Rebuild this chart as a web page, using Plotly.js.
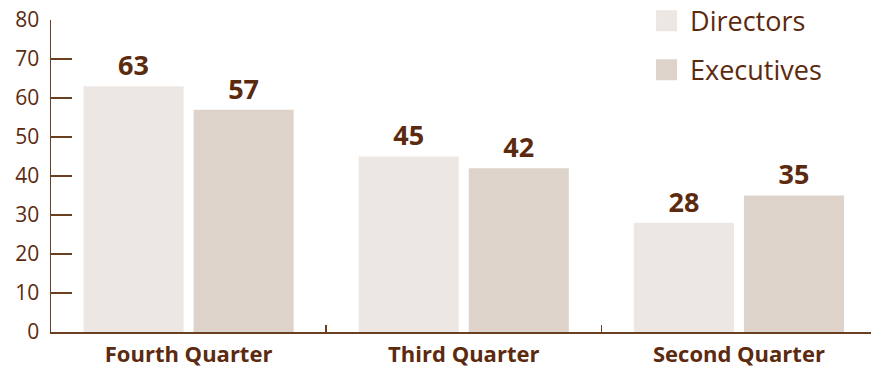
<!DOCTYPE html>
<html>
<head>
<meta charset="utf-8">
<script src="https://cdn.plot.ly/plotly-3.0.1.min.js"></script>
<style>html,body{margin:0;padding:0;background:#fff;}#chart{width:871px;height:367px;}</style>
</head>
<body>
<div id="chart"></div>
<script>
const categories = ["Fourth Quarter", "Third Quarter", "Second Quarter"];
const directors = [63, 45, 28];
const executives = [57, 42, 35];
const seriesNames = ["Directors", "Executives"];
const yTicks = [0, 10, 20, 30, 40, 50, 60, 70, 80];

const brown = "#5c2a0e";
const axisBrown = "#6b3f22";
const colDir = "#ede7e4";
const colExe = "#ddd3cb";
const fam = "'Open Sans', 'Noto Sans', sans-serif";

const traces = [
  {type: "bar", x: categories, y: directors, name: seriesNames[0], marker: {color: colDir},
   text: directors.map(String), textposition: "outside", cliponaxis: false,
   textfont: {family: fam, size: 27, color: brown, weight: 700}, showlegend: false, hoverinfo: "none"},
  {type: "bar", x: categories, y: executives, name: seriesNames[1], marker: {color: colExe},
   text: executives.map(String), textposition: "outside", cliponaxis: false,
   textfont: {family: fam, size: 27, color: brown, weight: 700}, showlegend: false, hoverinfo: "none"},
  {type: "scatter", mode: "markers", x: [null], y: [null], name: seriesNames[0], legendgroup: "a",
   marker: {symbol: "square", size: 16, color: colDir, line: {color: colDir, width: 5}}, showlegend: true},
  {type: "scatter", mode: "markers", x: [null], y: [null], name: seriesNames[1], legendgroup: "b",
   marker: {symbol: "square", size: 16, color: colExe, line: {color: colExe, width: 5}}, showlegend: true}
];

const layout = {
  width: 871, height: 367,
  margin: {l: 51, r: 0, t: 0, b: 35, autoexpand: false},
  paper_bgcolor: "#fff", plot_bgcolor: "#fff",
  barmode: "group", bargap: 0.2, bargroupgap: 0.091,
  font: {family: fam, color: brown},
  xaxis: {
    type: "category", range: [-0.5, 2.48], fixedrange: true,
    showline: true, linecolor: axisBrown, linewidth: 2, layer: "below traces",
    ticks: "inside", tickson: "boundaries", ticklen: 7, tickcolor: axisBrown, tickwidth: 1.5,
    ticklabelstandoff: 2,
    tickfont: {family: fam, size: 22, color: brown, weight: 700},
    showgrid: false, zeroline: false
  },
  yaxis: {
    domain: [0, 0.9398],
    range: [0, 80], tickvals: yTicks, ticktext: yTicks.map(String),
    showline: true, linecolor: axisBrown, linewidth: 1.5,
    ticks: "inside", ticklen: 21, tickcolor: axisBrown, tickwidth: 1.5,
    ticklabelstandoff: 6,
    tickfont: {family: fam, size: 21, color: brown},
    showgrid: false, zeroline: false, fixedrange: true
  },
  showlegend: true,
  legend: {
    x: 0.722, y: 1.01, xanchor: "left", yanchor: "top",
    traceorder: "grouped", tracegroupgap: 11,
    font: {family: fam, size: 27, color: brown},
    bgcolor: "rgba(0,0,0,0)", itemwidth: 37
  }
};

Plotly.newPlot("chart", traces, layout, {displayModeBar: false, staticPlot: true});
</script>
</body>
</html>
